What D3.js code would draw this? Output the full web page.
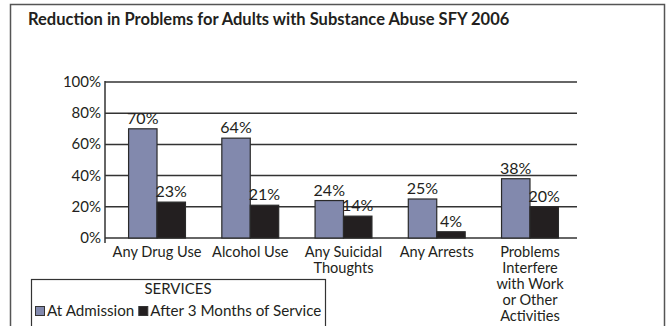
<!DOCTYPE html>
<html><head><meta charset="utf-8">
<script src="https://cdn.jsdelivr.net/npm/d3@7"></script>
<style>body{margin:0;background:#fff}svg{display:block}text{font-family:Lato,"Open Sans",sans-serif;fill:#231f20}</style>
</head><body><svg id="c" width="671" height="326"></svg>
<script>
const title = "Reduction in Problems for Adults with Substance Abuse SFY 2006";
const categories = ["Any Drug Use","Alcohol Use","Any Suicidal\nThoughts","Any Arrests","Problems\nInterfere\nwith Work\nor Other\nActivities"];
const seriesNames = ["At Admission","After 3 Months of Service"];
const atAdmission = [70,64,24,25,38];
const after3Months = [23,21,14,4,20];
const yTicks = [0,20,40,60,80,100];
const legendTitle = "SERVICES";
const colors = ["#8289ad","#231f20"];

const svg = d3.select("#c");
svg.append("rect").attr("x",10.5).attr("y",4.5).attr("width",654).attr("height",330)
  .attr("fill","none").attr("stroke","#555").attr("stroke-width",1.5);
svg.append("text").attr("x",28).attr("y",25).attr("font-weight","bold").attr("font-size",16.5).text(title);

const y = d3.scaleLinear().domain([0,100]).range([238,82]);
const x0 = d3.scaleBand().domain(categories).range([110.4,576.6]).paddingInner(0.39).paddingOuter(0.195);
const x1 = d3.scaleBand().domain(seriesNames).range([0,x0.bandwidth()]);
const axisLeft = 105;

svg.append("g").selectAll("line").data(yTicks).join("line")
  .attr("x1",axisLeft).attr("x2",577).attr("y1",d=>y(d)).attr("y2",d=>y(d))
  .attr("stroke","#333").attr("stroke-width",1.5);
svg.append("line").attr("x1",axisLeft).attr("x2",axisLeft).attr("y1",y(100)-1).attr("y2",y(0)+5)
  .attr("stroke","#333").attr("stroke-width",1.5);
svg.append("g").selectAll("text").data(yTicks).join("text")
  .attr("x",101).attr("y",d=>y(d)+5).attr("text-anchor","end").attr("font-size",15)
  .text(d=>d+"%");

const series = [atAdmission, after3Months];
series.forEach((vals,si)=>{
  const g = svg.append("g");
  g.selectAll("rect").data(vals).join("rect")
    .attr("x",(d,i)=>x0(categories[i])+x1(seriesNames[si]))
    .attr("y",d=>y(d))
    .attr("width",x1.bandwidth())
    .attr("height",d=>y(0)-y(d))
    .attr("fill",colors[si]).attr("stroke","#2a2a2a").attr("stroke-width",1.2);
  g.selectAll("text").data(vals).join("text")
    .attr("x",(d,i)=>x0(categories[i])+x1(seriesNames[si])+x1.bandwidth()/2)
    .attr("y",d=>y(d)-5).attr("text-anchor","middle").attr("font-size",16)
    .text(d=>d+"%");
});

const xl = svg.append("g").selectAll("text").data(categories).join("text")
  .attr("text-anchor","middle").attr("font-size",14.6)
  .attr("transform",d=>`translate(${x0(d)+x0.bandwidth()/2},257)`);
xl.selectAll("tspan").data(d=>d.split("\n")).join("tspan")
  .attr("x",0).attr("dy",(d,i)=>i===0?0:15.9).text(d=>d);

const lg = svg.append("g");
lg.append("rect").attr("x",31.5).attr("y",279.5).attr("width",294).attr("height",60)
  .attr("fill","#fff").attr("stroke","#333").attr("stroke-width",1.2);
lg.append("text").attr("x",178).attr("y",294).attr("text-anchor","middle").attr("font-size",15).text(legendTitle);
let lx = 35;
seriesNames.forEach((s,i)=>{
  lg.append("rect").attr("x",lx+0.5).attr("y",306.5).attr("width",9).attr("height",9)
    .attr("fill",colors[i]).attr("stroke","#333").attr("stroke-width",1);
  const t = lg.append("text").attr("x",lx+12).attr("y",316).attr("font-size",15.2).text(s);
  lx += 12 + t.node().getComputedTextLength() + 4;
});
</script></body></html>
